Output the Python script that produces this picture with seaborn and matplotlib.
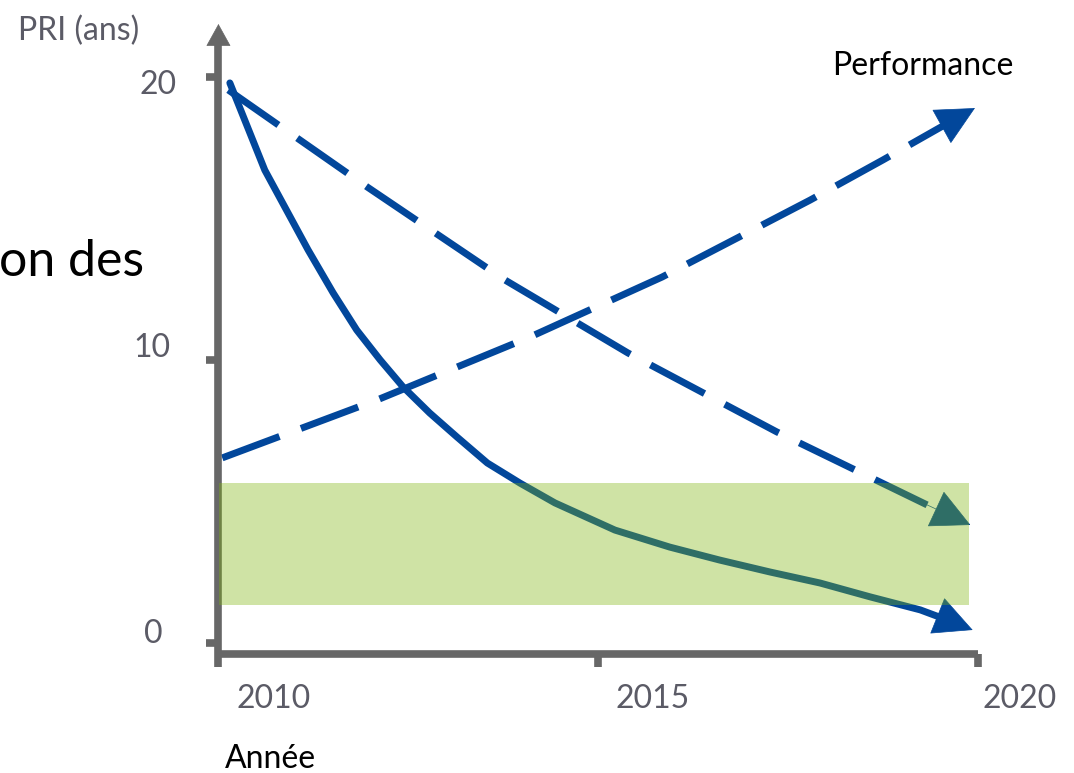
import matplotlib
matplotlib.use("Agg")
import matplotlib.pyplot as plt
from matplotlib.transforms import offset_copy
import seaborn as sns

# ---------------- data ----------------
curve_years = [2010.15, 2010.61, 2011.18, 2011.51, 2011.82, 2012.13, 2012.43, 2012.78,
               2013.14, 2013.54, 2013.97, 2014.43, 2015.22, 2015.94, 2016.60, 2017.26,
               2017.92, 2018.58, 2019.24, 2019.67, 2019.93]
curve_pri = [19.79, 16.71, 13.89, 12.37, 11.06, 10.00, 9.05, 8.13,
             7.28, 6.36, 5.65, 4.95, 3.99, 3.39, 2.93, 2.51,
             2.12, 1.63, 1.17, 0.74, 0.46]

down_years = [2010.13, 2011.96, 2013.77, 2015.39, 2017.35, 2019.33, 2019.90]
down_pri = [19.54, 16.11, 12.83, 10.25, 7.46, 4.88, 4.17]

perf_years = [2010.05, 2012.09, 2014.10, 2015.84, 2016.83, 2017.79, 2018.75, 2019.63, 2019.96]
perf_vals = [6.54, 8.59, 10.81, 12.93, 14.31, 15.65, 17.07, 18.41, 18.90]

band_years = [2010.01, 2019.88]
band_low = 1.34
band_high = 5.65

x_ticks = [2010, 2015, 2020]
x_labels = ["2010", "2015", "2020"]
y_ticks = [0, 10, 20]
y_labels = ["0", "10", "20"]

# ---------------- style ----------------
sns.set_theme(style="white")
plt.rcParams["font.family"] = ["Lato", "DejaVu Sans"]

BLUE = "#02479b"
GRAY = "#676767"
TXT_GRAY = "#5b5b66"
GREEN = "#7db30c"
FS = 23

fig = plt.figure(figsize=(10.74, 7.73), dpi=100)
ax = fig.add_axes([0.2034, 0.1539, 0.7072, 0.7879])
ax.set_xlim(2010, 2020)
ax.set_ylim(-0.39, 21.13)

# solid curve (line stops at the last point before the tip, head drawn to tip)
sns.lineplot(x=curve_years[:-1], y=curve_pri[:-1], ax=ax, color=BLUE, lw=5,
             estimator=None, sort=False, zorder=2)
ax.lines[-1].set_solid_joinstyle("round")
sns.lineplot(x=down_years[:-1], y=down_pri[:-1], ax=ax, color=BLUE, lw=5,
             estimator=None, sort=False, zorder=2)
ax.lines[-1].set_dashes([8.8, 3.3])
ax.lines[-1].set_dash_capstyle("butt")
sns.lineplot(x=perf_years[:-1], y=perf_vals[:-1], ax=ax, color=BLUE, lw=5,
             estimator=None, sort=False, zorder=2)
ax.lines[-1].set_dashes([8.8, 3.3])
ax.lines[-1].set_dash_capstyle("butt")

head = dict(arrowstyle="-|>,head_length=1.4,head_width=0.7", mutation_scale=19,
            color=BLUE, lw=0.5, shrinkA=0, shrinkB=0)
for xs, ys in [(curve_years, curve_pri), (down_years, down_pri), (perf_years, perf_vals)]:
    ax.annotate("", xy=(xs[-1], ys[-1]), xytext=(xs[-2], ys[-2]),
                arrowprops=head, zorder=2, annotation_clip=False)

# green band on top (semi-transparent)
ax.fill_between(band_years, [band_low] * 2, [band_high] * 2, color=GREEN,
                alpha=0.37, lw=0, zorder=4)

# axes styling
for s in ["top", "right"]:
    ax.spines[s].set_visible(False)
for s in ["left", "bottom"]:
    ax.spines[s].set_color(GRAY)
    ax.spines[s].set_linewidth(5.5)
    ax.spines[s].set_capstyle("butt")
ax.set_xticks(x_ticks)
ax.set_yticks(y_ticks)
ax.tick_params(axis="x", direction="out", length=9.5, width=5.5, color=GRAY,
               labelbottom=False, bottom=True)
ax.tick_params(axis="y", direction="out", length=8.5, width=5.5, color=GRAY,
               labelleft=False, left=True)
ax.grid(False)

# y axis arrow head
ax.annotate("", xy=(0, 1.0345), xytext=(0, 0.995), xycoords="axes fraction",
            textcoords="axes fraction",
            arrowprops=dict(arrowstyle="-|>,head_length=1.5,head_width=0.83",
                            mutation_scale=10, color=GRAY, lw=0.5,
                            shrinkA=0, shrinkB=0))

# tick labels (as in the reference, offset from their ticks)
x_off = [(18, -54), (17, -54), (5, -54)]
for v, lab, (dx, dy) in zip(x_ticks, x_labels, x_off):
    ax.text(v, 0, lab, transform=offset_copy(ax.get_xaxis_transform(), x=dx, y=dy, units="dots"),
            ha="left", va="baseline", fontsize=FS, color=TXT_GRAY)
y_off = [(-56, 0), (-48, 3), (-42, -17)]
for v, lab, (dx, dy) in zip(y_ticks, y_labels, y_off):
    ax.text(0, v, lab, transform=offset_copy(ax.get_yaxis_transform(), x=dx, y=dy, units="dots"),
            ha="right", va="baseline", fontsize=FS, color=TXT_GRAY)

W, H = 1074, 773
fig.text(18 / W, 1 - 40 / H, "PRI (ans)", ha="left", va="baseline", fontsize=FS, color=TXT_GRAY)
fig.text(832 / W, 1 - 75 / H, "Performance", ha="left", va="baseline", fontsize=FS, color="black")
fig.text(225 / W, 1 - 768 / H, "Année", ha="left", va="baseline", fontsize=FS, color="black")
fig.text(144 / W, 1 - 276 / H, "on des", ha="right", va="baseline", fontsize=36, color="black")

fig.savefig("out.png", dpi=100, facecolor="white")
